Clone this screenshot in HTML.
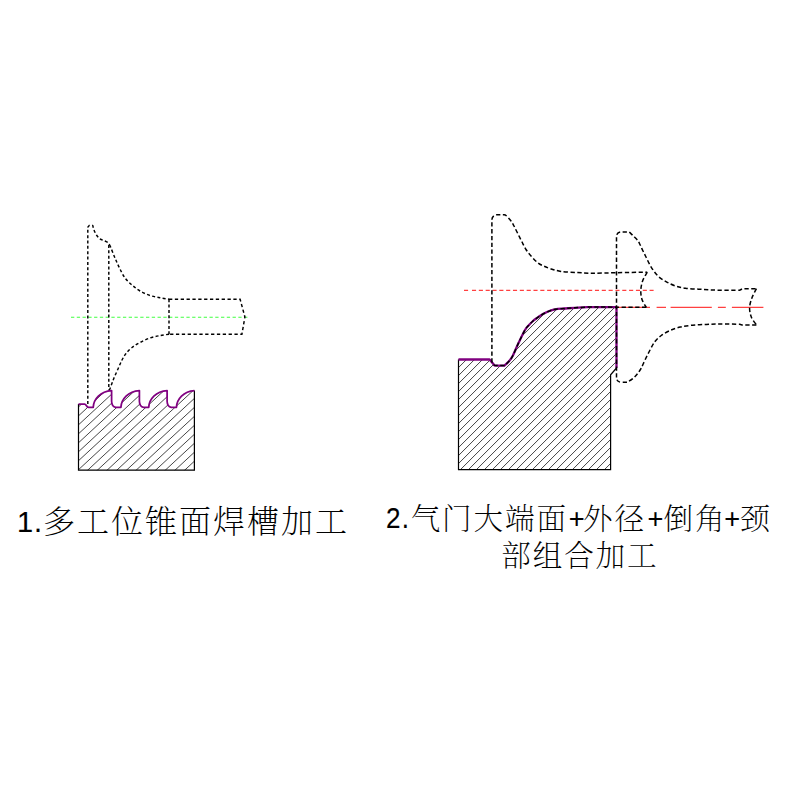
<!DOCTYPE html>
<html lang="zh-CN">
<head>
<meta charset="utf-8">
<title>加工示意图</title>
<style>
html,body{margin:0;padding:0;background:#fff;}
body{width:800px;height:800px;position:relative;overflow:hidden;font-family:"Liberation Sans","Noto Serif CJK SC",serif;color:#000;}
svg{position:absolute;left:0;top:0;display:block;}
.cap{position:absolute;margin:0;white-space:nowrap;line-height:40px;height:40px;}
.cap span{position:relative;display:inline-block;}
.l{font-family:"Liberation Sans",sans-serif;font-weight:400;-webkit-text-stroke:0.12px #000;}
.c{font-family:"Liberation Serif","Noto Serif CJK SC",serif;font-weight:200;}
#cap1{left:0;top:500px;}
#cap1 .l{font-size:29px;letter-spacing:0.8px;}
#cap1 .c{font-size:32px;letter-spacing:2px;}
#cap2a{left:0;top:497px;}
#cap2b{left:0;top:535px;}
#cap2a .l{font-size:27.2px;}
#cap2a #t3{font-size:28.6px;letter-spacing:1.4px;transform:scaleX(0.91);transform-origin:0 50%;}
#cap2a .c,#cap2b .c{font-size:29.6px;letter-spacing:1.9px;}
#t1{left:17.07px;top:1.24px;}
#t2{left:17.27px;top:2.35px;}
#t3{left:386.39px;top:0.84px;}
#t4{left:383.98px;top:1.77px;}
#t5{left:384.60px;top:1.25px;}
#t6{left:382.98px;top:1.77px;}
#t7{left:384.47px;top:1.25px;}
#t8{left:384.68px;top:1.77px;}
#t9{left:382.39px;top:1.25px;}
#t10{left:382.40px;top:1.77px;}
#t11{left:501.15px;top:1.00px;}

</style>
</head>
<body>
<svg width="800" height="800" viewBox="0 0 800 800">
  <defs>
    <clipPath id="clipL"><path d="M78.50,404.00 H84.6 C86.3,404.00 86.3,407.40 88.6,407.40 H93.2C93.60,399.10 100.40,391.30 111.60,390.60V401.20 C111.70,404.20 112.90,406.90 115.80,407.40H120.90C121.30,399.10 128.10,391.30 139.40,390.60V401.20 C139.50,404.20 140.70,406.90 143.60,407.40H148.70C149.10,399.10 155.90,391.30 167.10,390.60V401.20 C167.20,404.20 168.40,406.90 171.30,407.40H176.40C176.80,399.10 183.60,391.30 194.40,390.60V470.20 H78.50 Z"/></clipPath>
    <clipPath id="clipR"><path d="M458.50,359.50 H489.6 L494.6,365.6 H504.4C505.08,364.97 507.15,363.35 508.50,361.80C509.85,360.25 510.79,359.52 512.50,356.30C514.21,353.08 516.67,346.88 518.75,342.50C520.83,338.12 523.29,332.92 525.00,330.00C526.71,327.08 527.67,326.50 529.00,325.00C530.33,323.50 531.58,322.23 533.00,321.00C534.42,319.77 536.17,318.57 537.50,317.60C538.83,316.63 539.75,315.97 541.00,315.20C542.25,314.43 543.58,313.70 545.00,313.00C546.42,312.30 547.83,311.62 549.50,311.00C551.17,310.38 552.42,309.72 555.00,309.30C557.58,308.88 561.67,308.75 565.00,308.50C568.33,308.25 571.33,308.03 575.00,307.80C578.67,307.57 582.83,307.22 587.00,307.10C591.17,306.98 595.08,307.10 600.00,307.10C604.92,307.10 613.75,307.10 616.50,307.10V368L610.60,374.8 V469.70 H458.50 Z"/></clipPath>
  </defs>
  <rect x="0" y="0" width="800" height="800" fill="#ffffff"/>

  <!-- left figure -->
  <g clip-path="url(#clipL)"><path d="M-43.45,474.82 L91.55,349.95M-33.75,474.82 L101.25,349.95M-24.05,474.82 L110.95,349.95M-14.35,474.82 L120.65,349.95M-4.65,474.82 L130.35,349.95M5.05,474.82 L140.05,349.95M14.75,474.82 L149.75,349.95M24.45,474.82 L159.45,349.95M34.15,474.82 L169.15,349.95M43.85,474.82 L178.85,349.95M53.55,474.82 L188.55,349.95M63.25,474.82 L198.25,349.95M72.95,474.82 L207.95,349.95M82.65,474.82 L217.65,349.95M92.35,474.82 L227.35,349.95M102.05,474.82 L237.05,349.95M111.75,474.82 L246.75,349.95M121.45,474.82 L256.45,349.95M131.15,474.82 L266.15,349.95M140.85,474.82 L275.85,349.95M150.55,474.82 L285.55,349.95M160.25,474.82 L295.25,349.95M169.95,474.82 L304.95,349.95M179.65,474.82 L314.65,349.95M189.35,474.82 L324.35,349.95" fill="none" stroke="#3c3c3c" stroke-width="0.95"/></g>
  <path d="M78.50,404.00 V470.20 H194.40 V390.60" fill="none" stroke="#000" stroke-width="1.2" stroke-linejoin="miter"/>
  <line x1="71" y1="317.2" x2="247.7" y2="317.2" stroke="#40ff40" stroke-width="1.1" stroke-dasharray="3.3 2.47"/>
  <g fill="none" stroke="#000" stroke-width="1.45" stroke-dasharray="3 2.35">
    <path d="M87.8,404 V227.3 L89.3,225.4 H92.6 L92.8,225.6C93.00,226.33 93.38,228.43 94.00,230.00C94.62,231.57 95.50,233.53 96.50,235.00C97.50,236.47 98.58,237.80 100.00,238.80C101.42,239.80 103.57,240.33 105.00,241.00C106.43,241.67 107.83,242.13 108.60,242.80C109.37,243.47 109.43,244.63 109.60,245.00"/>
    <path d="M109.60,245.00C109.83,245.50 110.10,245.83 111.00,248.00C111.90,250.17 113.58,254.67 115.00,258.00C116.42,261.33 117.83,264.67 119.50,268.00C121.17,271.33 122.92,275.17 125.00,278.00C127.08,280.83 129.50,282.83 132.00,285.00C134.50,287.17 137.00,289.25 140.00,291.00C143.00,292.75 146.67,294.37 150.00,295.50C153.33,296.63 156.83,297.18 160.00,297.80C163.17,298.42 167.50,298.97 169.00,299.20"/>
    <path d="M169.00,334.20C167.50,334.43 163.17,334.97 160.00,335.60C156.83,336.23 153.33,336.85 150.00,338.00C146.67,339.15 143.00,340.92 140.00,342.50C137.00,344.08 134.33,345.67 132.00,347.50C129.67,349.33 127.67,351.42 126.00,353.50C124.33,355.58 123.33,357.42 122.00,360.00C120.67,362.58 119.33,366.00 118.00,369.00C116.67,372.00 115.17,375.17 114.00,378.00C112.83,380.83 111.78,383.92 111.00,386.00C110.22,388.08 109.58,389.75 109.30,390.50"/>
    <path d="M108.8,245 V390.5"/>
    <path d="M169,299.2 H240.1 L244.9,317 L241.9,334.2 H169" stroke-dasharray="3.3 2.55"/>
    <path d="M169,299.2 V334.2"/>
  </g>
  <path d="M78.50,404.00 H84.6 C86.3,404.00 86.3,407.40 88.6,407.40 H93.2C93.60,399.10 100.40,391.30 111.60,390.60V401.20 C111.70,404.20 112.90,406.90 115.80,407.40H120.90C121.30,399.10 128.10,391.30 139.40,390.60V401.20 C139.50,404.20 140.70,406.90 143.60,407.40H148.70C149.10,399.10 155.90,391.30 167.10,390.60V401.20 C167.20,404.20 168.40,406.90 171.30,407.40H176.40C176.80,399.10 183.60,391.30 194.40,390.60" fill="none" stroke="#800080" stroke-width="1.75" stroke-linejoin="round"/>

  <!-- right figure -->
  <g clip-path="url(#clipR)"><path d="M290.05,480.00 L480.05,290.00M298.05,480.00 L488.05,290.00M306.05,480.00 L496.05,290.00M314.05,480.00 L504.05,290.00M322.05,480.00 L512.05,290.00M330.05,480.00 L520.05,290.00M338.05,480.00 L528.05,290.00M346.05,480.00 L536.05,290.00M354.05,480.00 L544.05,290.00M362.05,480.00 L552.05,290.00M370.05,480.00 L560.05,290.00M378.05,480.00 L568.05,290.00M386.05,480.00 L576.05,290.00M394.05,480.00 L584.05,290.00M402.05,480.00 L592.05,290.00M410.05,480.00 L600.05,290.00M418.05,480.00 L608.05,290.00M426.05,480.00 L616.05,290.00M434.05,480.00 L624.05,290.00M442.05,480.00 L632.05,290.00M450.05,480.00 L640.05,290.00M458.05,480.00 L648.05,290.00M466.05,480.00 L656.05,290.00M474.05,480.00 L664.05,290.00M482.05,480.00 L672.05,290.00M490.05,480.00 L680.05,290.00M498.05,480.00 L688.05,290.00M506.05,480.00 L696.05,290.00M514.05,480.00 L704.05,290.00M522.05,480.00 L712.05,290.00M530.05,480.00 L720.05,290.00M538.05,480.00 L728.05,290.00M546.05,480.00 L736.05,290.00M554.05,480.00 L744.05,290.00M562.05,480.00 L752.05,290.00M570.05,480.00 L760.05,290.00M578.05,480.00 L768.05,290.00M586.05,480.00 L776.05,290.00M594.05,480.00 L784.05,290.00M602.05,480.00 L792.05,290.00M610.05,480.00 L800.05,290.00M618.05,480.00 L808.05,290.00" fill="none" stroke="#3c3c3c" stroke-width="0.95"/></g>
  <path d="M458.50,359.50 V469.70 H610.60 V374.8 L616.5,368" fill="none" stroke="#000" stroke-width="1.2" stroke-linejoin="miter"/>
  <path d="M458.50,359.50 H489.6 L494.6,365.6 H504.4C505.08,364.97 507.15,363.35 508.50,361.80C509.85,360.25 510.79,359.52 512.50,356.30C514.21,353.08 516.67,346.88 518.75,342.50C520.83,338.12 523.29,332.92 525.00,330.00C526.71,327.08 527.67,326.50 529.00,325.00C530.33,323.50 531.58,322.23 533.00,321.00C534.42,319.77 536.17,318.57 537.50,317.60C538.83,316.63 539.75,315.97 541.00,315.20C542.25,314.43 543.58,313.70 545.00,313.00C546.42,312.30 547.83,311.62 549.50,311.00C551.17,310.38 552.42,309.72 555.00,309.30C557.58,308.88 561.67,308.75 565.00,308.50C568.33,308.25 571.33,308.03 575.00,307.80C578.67,307.57 582.83,307.22 587.00,307.10C591.17,306.98 595.08,307.10 600.00,307.10C604.92,307.10 613.75,307.10 616.50,307.10V368" fill="none" stroke="#800080" stroke-width="2.3" stroke-linejoin="round"/>
  <path d="M464,290.4H469.5M472,290.4H653.6" fill="none" stroke="#ff4040" stroke-width="1.2" stroke-dasharray="4.1 2.73"/>
  <path d="M616.5,307.3H650M656.6,307.3H666M670.6,307.3H711.8M717.9,307.3H725.8M731.9,307.3H763.4" stroke="#ff4040" stroke-width="1.2" fill="none"/>
  <g fill="none" stroke="#000" stroke-width="1.5" stroke-dasharray="4.3 2.5">
    <path d="M646.3,307.3 H616.5C613.75,307.10 604.92,307.10 600.00,307.10C595.08,307.10 591.17,306.98 587.00,307.10C582.83,307.22 578.67,307.57 575.00,307.80C571.33,308.03 568.33,308.25 565.00,308.50C561.67,308.75 557.58,308.88 555.00,309.30C552.42,309.72 551.17,310.38 549.50,311.00C547.83,311.62 546.42,312.30 545.00,313.00C543.58,313.70 542.25,314.43 541.00,315.20C539.75,315.97 538.83,316.63 537.50,317.60C536.17,318.57 534.42,319.77 533.00,321.00C531.58,322.23 530.33,323.50 529.00,325.00C527.67,326.50 526.71,327.08 525.00,330.00C523.29,332.92 520.83,338.12 518.75,342.50C516.67,346.88 514.21,353.08 512.50,356.30C510.79,359.52 509.85,360.25 508.50,361.80C507.15,363.35 505.08,364.97 504.40,365.60H496.5 Q491.9,365.6 491.9,360.5 V219.8 A5,5 0 0 1 496.9,214.8 H503.7C504.13,214.95 505.08,214.67 506.30,215.70C507.52,216.73 509.72,219.28 511.00,221.00C512.28,222.72 512.83,223.83 514.00,226.00C515.17,228.17 516.67,231.33 518.00,234.00C519.33,236.67 520.67,239.42 522.00,242.00C523.33,244.58 524.46,247.12 526.00,249.50C527.54,251.88 529.33,254.08 531.25,256.25C533.17,258.42 535.46,260.88 537.50,262.50C539.54,264.12 541.33,264.97 543.50,266.00C545.67,267.03 547.58,267.80 550.50,268.70C553.42,269.60 556.50,270.75 561.00,271.40C565.50,272.05 572.25,272.30 577.50,272.60C582.75,272.90 586.00,273.18 592.50,273.20C599.00,273.22 607.38,272.87 616.50,272.70C625.62,272.53 642.08,272.28 647.20,272.20"/>
    <path d="M647.20,272.20C646.43,273.67 643.67,277.95 642.60,281.00C641.53,284.05 640.90,287.42 640.80,290.50C640.70,293.58 641.08,296.70 642.00,299.50C642.92,302.30 645.58,306.00 646.30,307.30"/>
    <path d="M616.5,377.5 V236.3 A4.3,4.3 0 0 1 620.8,232 H629.3C630.02,232.70 632.18,234.77 633.60,236.20C635.02,237.63 636.70,239.13 637.80,240.60C638.90,242.07 639.33,243.27 640.20,245.00C641.07,246.73 642.03,249.00 643.00,251.00C643.97,253.00 644.67,254.37 646.00,257.00C647.33,259.63 649.03,263.65 651.00,266.80C652.97,269.95 655.30,273.43 657.80,275.90C660.30,278.37 663.13,279.95 666.00,281.60C668.87,283.25 671.75,284.70 675.00,285.80C678.25,286.90 681.12,287.62 685.50,288.20C689.88,288.78 695.71,288.97 701.25,289.30C706.79,289.63 712.34,290.05 718.75,290.20C725.16,290.35 736.21,290.20 739.70,290.20L742.5,288.7 H756.4"/>
    <path d="M756.40,288.70C755.67,290.21 753.13,294.63 752.00,297.75C750.87,300.87 749.72,304.19 749.60,307.40C749.48,310.61 750.17,314.08 751.30,317.00C752.43,319.92 755.55,323.58 756.40,324.90"/>
    <path d="M756.4,324.9 H742 L739.7,324.2C736.21,324.17 724.28,323.97 718.75,324.00C713.22,324.03 710.88,324.20 706.50,324.40C702.12,324.60 696.88,324.77 692.50,325.20C688.12,325.63 684.04,326.10 680.25,327.00C676.46,327.90 672.92,329.18 669.75,330.60C666.58,332.02 663.71,333.68 661.25,335.50C658.79,337.32 656.88,339.08 655.00,341.50C653.12,343.92 651.67,346.92 650.00,350.00C648.33,353.08 646.46,356.97 645.00,360.00C643.54,363.03 642.50,365.91 641.25,368.20C640.00,370.49 638.88,372.03 637.50,373.75C636.12,375.47 634.67,377.09 633.00,378.50C631.33,379.91 628.42,381.58 627.50,382.20H621.2 Q616.5,382.2 616.5,377.5"/>
  </g>
</svg>
<p class="cap" id="cap1"><span class="l" id="t1">1.</span><span class="c" id="t2">多工位锥面焊槽加工</span></p>
<p class="cap" id="cap2a"><span class="l" id="t3">2.</span><span class="c" id="t4">气门大端面</span><span class="l" id="t5">+</span><span class="c" id="t6">外径</span><span class="l" id="t7">+</span><span class="c" id="t8">倒角</span><span class="l" id="t9">+</span><span class="c" id="t10">颈</span></p>
<p class="cap" id="cap2b"><span class="c" id="t11">部组合加工</span></p>
</body>
</html>
